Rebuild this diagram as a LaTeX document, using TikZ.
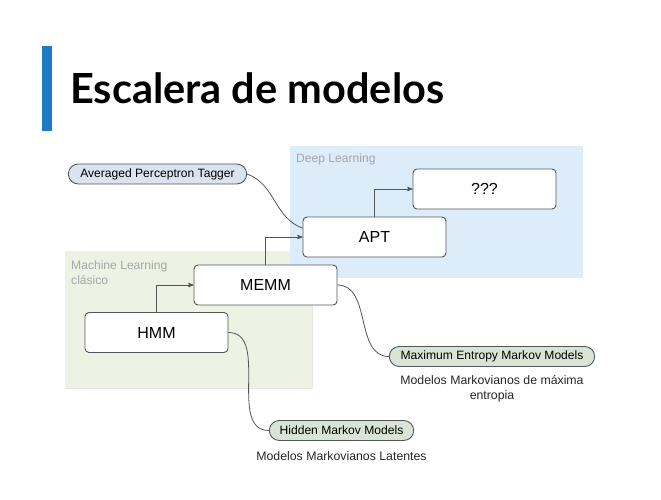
\documentclass[tikz,border=0pt]{standalone}
\usepackage{fontspec}
\setmainfont{Liberation Sans}
\newfontfamily\titlefont{Lato}
\usepackage{tikz}
\usetikzlibrary{arrows,positioning,shapes.misc}

\definecolor{barblue}{HTML}{1C7BC4}
\definecolor{mlgreen}{HTML}{EEF2E3}
\definecolor{dlblue}{HTML}{DCECF8}
\definecolor{pillblue}{HTML}{DCE3F0}
\definecolor{pillgreen}{HTML}{D8E5D4}
\definecolor{edgegray}{HTML}{50565A}

\begin{document}
\begin{tikzpicture}[x=1pt,y=1pt,>=stealth',
  model node/.style={draw=edgegray,fill=white,rounded corners=4pt,line width=0.9pt,
    minimum width=143pt,minimum height=40pt,font=\fontsize{16}{18}\selectfont},
  tag node/.style={draw=edgegray,rounded rectangle,line width=0.9pt,
    minimum height=20pt,inner ysep=2pt,font=\fontsize{12.1}{13}\selectfont},
  note node/.style={align=center,text=black!85,font=\fontsize{12.3}{14.5}\selectfont},
  region label/.style={anchor=north west,inner sep=0pt,align=left,text=black!35,
    font=\fontsize{12.1}{15}\selectfont},
  step arrow/.style={->,draw=edgegray,line width=0.9pt},
  tag line/.style={draw=edgegray,line width=0.8pt}]

  \useasboundingbox (0,0) rectangle (661,500);

  % title
  \fill[barblue] (42,369) rectangle (52,454);
  \node[anchor=base west,inner sep=0pt,font=\titlefont\bfseries\fontsize{41.5}{48}\selectfont]
    (title) at (70,396) {Escalera de modelos};

  % regions
  \fill[mlgreen] (65,112) rectangle (312,249);
  \draw[black!10] (312,249) -- (312,112) -- (65,112);
  \fill[dlblue] (290,222) rectangle (583,354);
  \node[region label] (mllabel) at (71,239) {Machine Learning\\clásico};
  \node[region label] (dllabel) at (296,346) {Deep Learning};

  % models
  \node[model node] (hmm) at (156.5,167.5) {HMM};
  \node[model node] (memm) at (265.5,215) {MEMM};
  \node[model node] (apt) at (374.5,263) {APT};
  \node[model node] (next) at (484.5,311) {???};

  \draw[step arrow] (hmm.north) |- (memm.west);
  \draw[step arrow] (memm.north) |- (apt.west);
  \draw[step arrow] (apt.north) |- (next.west);

  % long names
  \node[tag node,fill=pillblue,minimum width=185pt] (aptlong) at (157.5,326) {Averaged Perceptron Tagger};
  \node[tag node,fill=pillgreen,minimum width=212pt] (memmlong) at (492,143.5) {Maximum Entropy Markov Models};
  \node[tag node,fill=pillgreen,minimum width=151pt] (hmmlong) at (341.5,69.5) {Hidden Markov Models};

  \node[note node,below=5pt of memmlong] (memmnote) {Modelos Markovianos de máxima\\entropia};
  \node[note node,below=7pt of hmmlong] (hmmnote) {Modelos Markovianos Latentes};

  \draw[tag line] (aptlong.east) to[out=-20,in=160] (apt.173);
  \draw[tag line] (memm.east) to[out=0,in=180] (memmlong.west);
  \draw[tag line] (hmm.east) to[out=0,in=180] (hmmlong.west);

\end{tikzpicture}
\end{document}
